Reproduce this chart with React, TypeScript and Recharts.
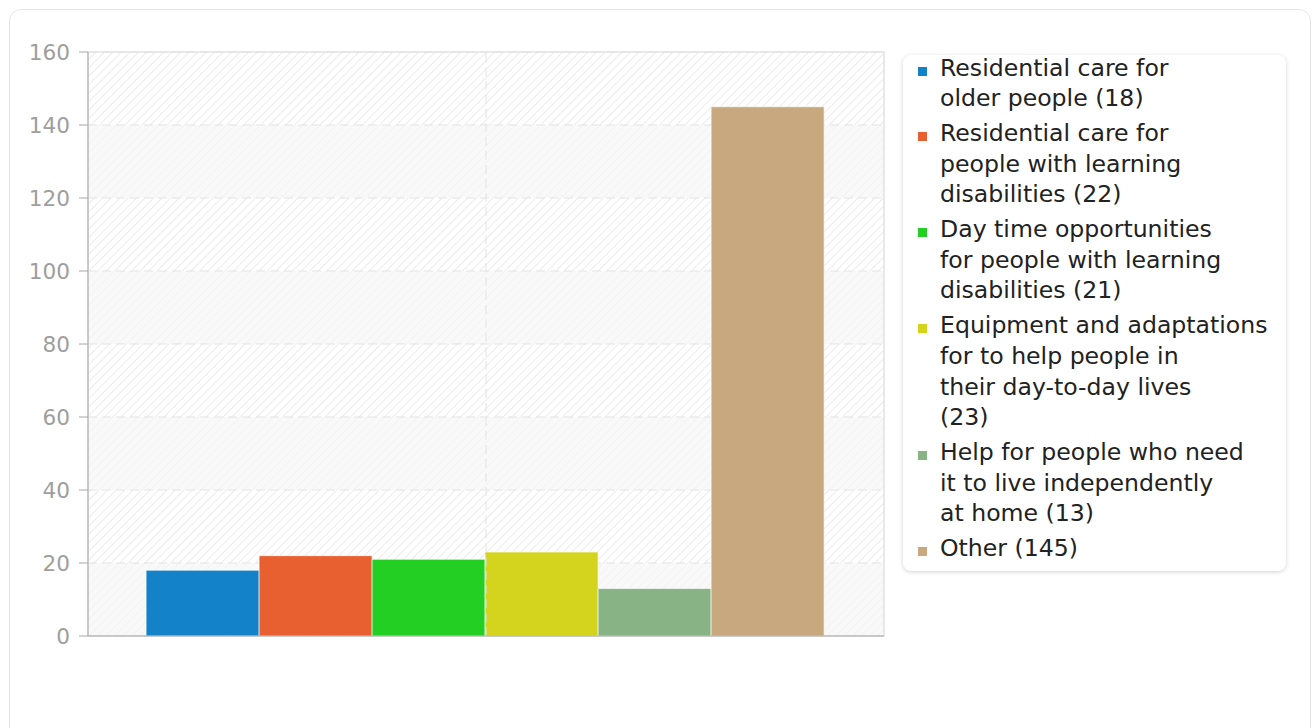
import React from 'react';
import { BarChart, Bar, XAxis, YAxis, CartesianGrid, ReferenceArea, ReferenceLine } from 'recharts';

const categories = ['Total'];
const seriesNames = [
  'Residential care for older people',
  'Residential care for people with learning disabilities',
  'Day time opportunities for people with learning disabilities',
  'Equipment and adaptations for to help people in their day-to-day lives',
  'Help for people who need it to live independently at home',
  'Other',
];
const seriesValues = [18, 22, 21, 23, 13, 145];
const seriesColors = ['#1482c8', '#e8602f', '#22cf22', '#d4d41e', '#88b385', '#c8a87f'];
const yTicks = [0, 20, 40, 60, 80, 100, 120, 140, 160];

// one row, one key per series
const data = categories.map((name) => {
  const row: Record<string, any> = { name };
  seriesValues.forEach((v, i) => {
    row[`s${i}`] = v;
  });
  return row;
});

// break legend labels at ~25 characters per line
function wrap(text: string, max = 25) {
  const words = text.split(' ');
  const lines: string[] = [];
  let cur = '';
  words.forEach((w) => {
    const next = cur ? cur + ' ' + w : w;
    if (next.length > max && cur) {
      lines.push(cur);
      cur = w;
    } else {
      cur = next;
    }
  });
  if (cur) lines.push(cur);
  return lines;
}

const FONT = '"DejaVu Sans", Verdana, sans-serif';

function LegendBox() {
  return (
    <div
      style={{
        position: 'absolute',
        left: 893,
        top: 45,
        width: 383,
        height: 516,
        background: '#fff',
        borderRadius: 8,
        boxShadow: '0 1px 4px rgba(0,0,0,0.18)',
      }}
    >
      <div style={{ position: 'absolute', left: 0, top: -2.5, width: '100%' }}>
        {seriesNames.map((n, i) => (
          <div key={n} style={{ position: 'relative', paddingLeft: 37, marginBottom: 4 }}>
            <div
              style={{
                position: 'absolute',
                left: 15,
                top: 14,
                width: 9,
                height: 9,
                background: seriesColors[i],
              }}
            />
            {wrap(`${n} (${seriesValues[i]})`).map((line, j) => (
              <div key={j} style={{ fontSize: 23.6, lineHeight: '30.7px', color: '#222', whiteSpace: 'nowrap' }}>
                {line}
              </div>
            ))}
          </div>
        ))}
      </div>
    </div>
  );
}

export default function App() {
  return (
    <div
      style={{
        position: 'fixed',
        left: 9,
        top: 9,
        width: 1302,
        height: 760,
        boxSizing: 'border-box',
        border: '1px solid #e4e4e4',
        borderRadius: 12,
        background: '#fff',
        fontFamily: FONT,
      }}
    >
      <div style={{ position: 'absolute', left: 0, top: 0 }}>
        <BarChart
          width={880}
          height={640}
          data={data}
          margin={{ top: 42, right: 6, bottom: 4, left: 0 }}
          barCategoryGap="7.3%"
          barGap={0}
        >
          <defs>
            <pattern id="hatchA" patternUnits="userSpaceOnUse" width="6" height="6" patternTransform="rotate(45)">
              <rect width="6" height="6" fill="#ffffff" />
              <line x1="0" y1="0" x2="0" y2="6" stroke="#e6e6e6" strokeWidth="1.6" />
            </pattern>
            <pattern id="hatchB" patternUnits="userSpaceOnUse" width="6" height="6" patternTransform="rotate(45)">
              <rect width="6" height="6" fill="#f9f9f9" />
              <line x1="0" y1="0" x2="0" y2="6" stroke="#f2f2f2" strokeWidth="1.6" />
            </pattern>
          </defs>
          <CartesianGrid
            stroke="#e3e3e3"
            strokeDasharray="9 5"
            vertical={false}
            horizontalFill={['url(#hatchA)', 'url(#hatchB)']}
          />
          <ReferenceLine x={categories[0]} stroke="#e3e3e3" strokeDasharray="9 5" />
          <ReferenceArea y1={0} y2={160} fill="none" stroke="#e2e2e2" strokeWidth={1.5} />
          <XAxis dataKey="name" height={10} tick={false} tickLine={false} axisLine={{ stroke: '#a8a8a8' }} />
          <YAxis
            width={78}
            domain={[0, 160]}
            ticks={yTicks}
            tickSize={9}
            tickMargin={9}
            axisLine={{ stroke: '#a8a8a8' }}
            tickLine={{ stroke: '#a8a8a8' }}
            tick={{ fill: '#9e9e9e', fontSize: 21.6, fontFamily: FONT }}
            interval={0}
          />
          {seriesNames.map((n, i) => (
            <Bar
              key={n}
              dataKey={`s${i}`}
              name={n}
              fill={seriesColors[i]}
              stroke="#ffffff"
              strokeOpacity={0.6}
              strokeWidth={1}
              isAnimationActive={false}
            />
          ))}
        </BarChart>
      </div>
      <LegendBox />
    </div>
  );
}
